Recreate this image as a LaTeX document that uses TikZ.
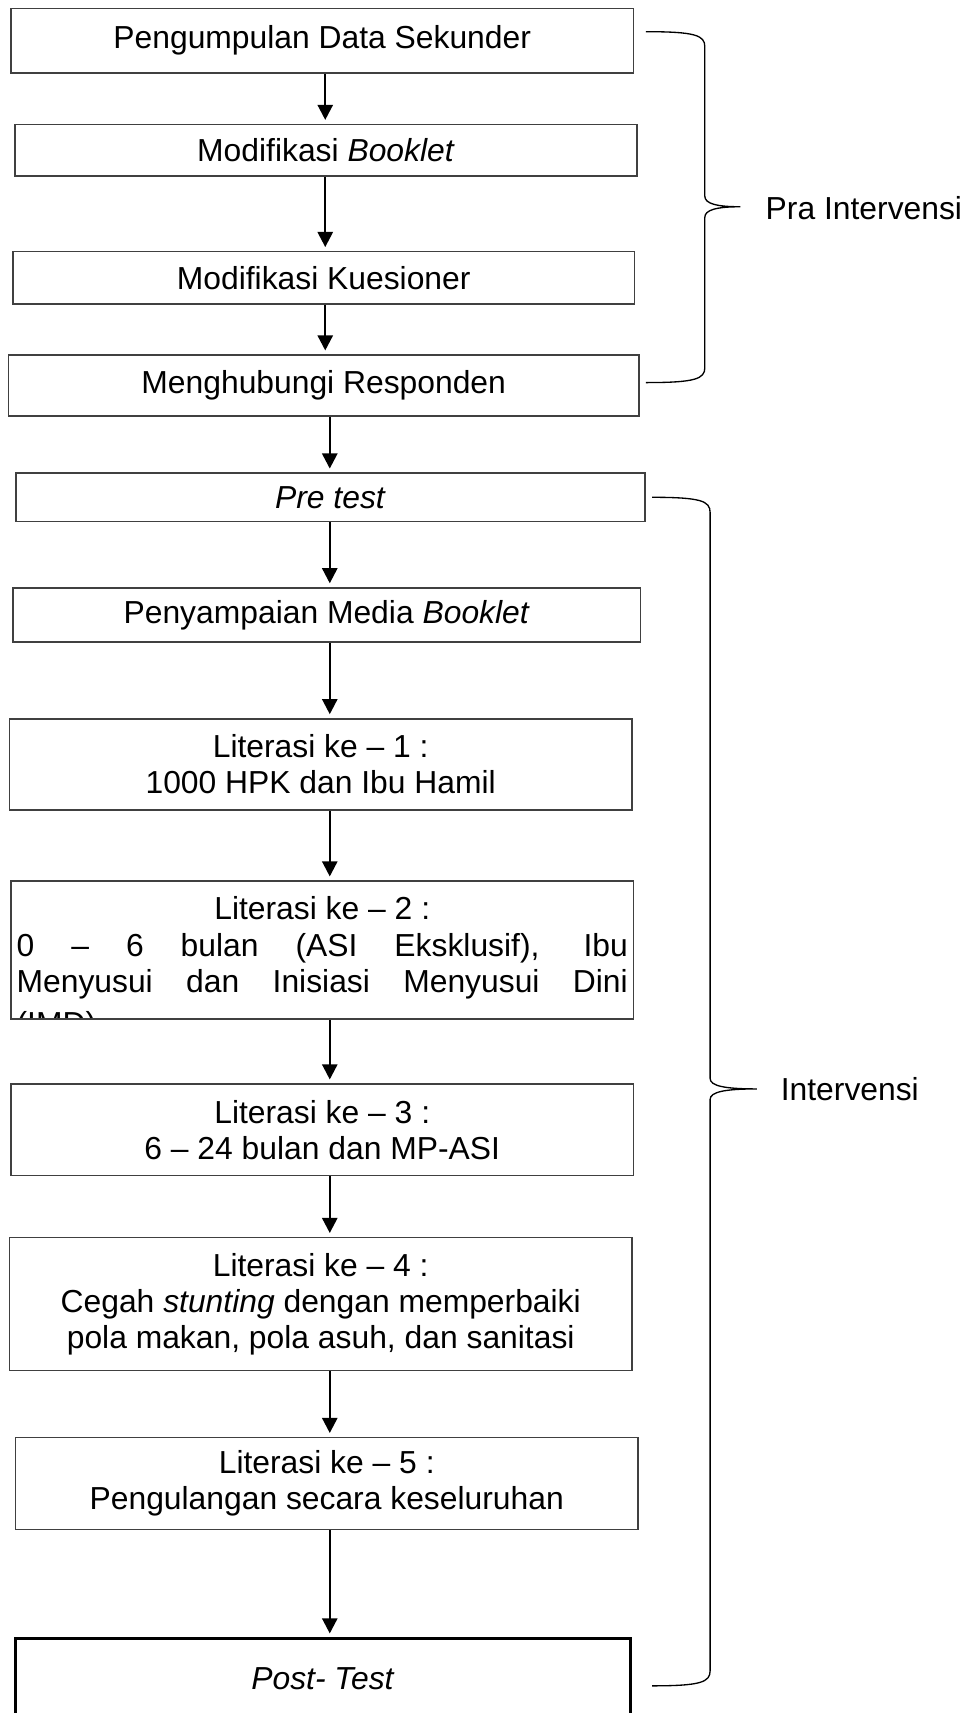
\documentclass[tikz,border=0pt]{standalone}
\usepackage{fontspec}
\setmainfont{Liberation Sans}
\usetikzlibrary{arrows.meta}
\definecolor{BoxLine}{HTML}{404040}

\begin{document}
\begin{tikzpicture}[
  stepbox/.style={draw=BoxLine,line width=0.6pt,minimum width=8.25cm,align=center,font=\fontsize{12}{13.6}\selectfont,inner sep=2pt},
  endbox/.style={stepbox,draw=black,line width=1.1pt},
  arr/.style={-{Triangle[length=2mm,width=2mm]},draw=black,line width=0.9pt,shorten >=0.5mm},
  bracket/.style={draw=black,line width=0.5pt},
  side/.style={anchor=west,inner sep=0pt,font=\fontsize{12}{13.6}\selectfont}
]
\useasboundingbox (0,0) rectangle (12.83,-22.70);
% pra intervensi
\node[stepbox,minimum height=0.85cm] (sekunder) at (4.27,-0.54) {Pengumpulan Data Sekunder};
\node[stepbox,minimum width=8.24cm,minimum height=0.68cm] (booklet) at (4.32,-1.99) {Modifikasi \textit{Booklet}};
\node[stepbox,minimum width=8.24cm,minimum height=0.69cm] (kuesioner) at (4.29,-3.68) {Modifikasi Kuesioner};
\node[stepbox,minimum width=8.35cm,minimum height=0.81cm] (responden) at (4.29,-5.11) {Menghubungi Responden};
% intervensi
\node[stepbox,minimum width=8.33cm,minimum height=0.64cm] (pretest) at (4.38,-6.59) {\textit{Pre test}};
\node[stepbox,minimum width=8.31cm,minimum height=0.72cm] (media) at (4.33,-8.15) {Penyampaian Media \textit{Booklet}};
\node[stepbox,minimum height=1.21cm] (lit1) at (4.25,-10.13) {Literasi ke – 1 :\\1000 HPK dan Ibu Hamil};
\node[stepbox,minimum height=1.83cm,path picture={
  \node[anchor=north,inner sep=0pt,align=center,font=\fontsize{12}{13.6}\selectfont] (lit2txt)
    at ([yshift=-0.2cm]path picture bounding box.north) {Literasi ke – 2 :\\
    \makebox[8.1cm][s]{0 – 6 bulan (ASI Eksklusif), Ibu}\\
    \makebox[8.1cm][s]{Menyusui dan Inisiasi Menyusui Dini}\\[2.5pt]
    \makebox[8.1cm][l]{(IMD)}};
}] (lit2) at (4.27,-12.59) {};
\node[stepbox,minimum height=1.21cm] (lit3) at (4.27,-14.97) {Literasi ke – 3 :\\6 – 24 bulan dan MP-ASI};
\node[stepbox,minimum height=1.76cm] (lit4) at (4.25,-17.28) {Literasi ke – 4 :\\Cegah \textit{stunting} dengan memperbaiki\\pola makan, pola asuh, dan sanitasi};
\node[stepbox,minimum height=1.22cm] (lit5) at (4.33,-19.66) {Literasi ke – 5 :\\Pengulangan secara keseluruhan};
\node[endbox,minimum width=8.14cm,minimum height=1.07cm] (posttest) at (4.28,-22.25) {\textit{Post- Test}};
% arrows
\coordinate (upper) at (4.31,0);
\coordinate (lower) at (4.37,0);
\foreach \a/\b/\c in {sekunder/booklet/upper,booklet/kuesioner/upper,kuesioner/responden/upper,
  responden/pretest/lower,pretest/media/lower,media/lit1/lower,lit1/lit2/lower,
  lit2/lit3/lower,lit3/lit4/lower,lit4/lit5/lower,lit5/posttest/lower}
  \draw[arr] (\a.south -| \c) -- (\b.north -| \c);
% braces
\draw[bracket] (8.56,-0.42) .. controls (9.22,-0.42) and (9.34,-0.47) .. (9.34,-0.62)
  -- (9.34,-2.60) .. controls (9.34,-2.70) and (9.50,-2.74) .. (9.81,-2.74)
  .. controls (9.50,-2.74) and (9.34,-2.78) .. (9.34,-2.88)
  -- (9.34,-4.87) .. controls (9.34,-5.02) and (9.22,-5.07) .. (8.56,-5.07);
\draw[bracket] (8.64,-6.59) .. controls (9.29,-6.59) and (9.41,-6.64) .. (9.41,-6.79)
  -- (9.41,-14.29) .. controls (9.41,-14.39) and (9.60,-14.43) .. (10.03,-14.43)
  .. controls (9.60,-14.43) and (9.41,-14.47) .. (9.41,-14.57)
  -- (9.41,-22.14) .. controls (9.41,-22.29) and (9.29,-22.34) .. (8.64,-22.34);
\node[side] (pra) at (10.14,-2.76) {Pra Intervensi};
\node[side] (inter) at (10.34,-14.43) {Intervensi};
\end{tikzpicture}
\end{document}
